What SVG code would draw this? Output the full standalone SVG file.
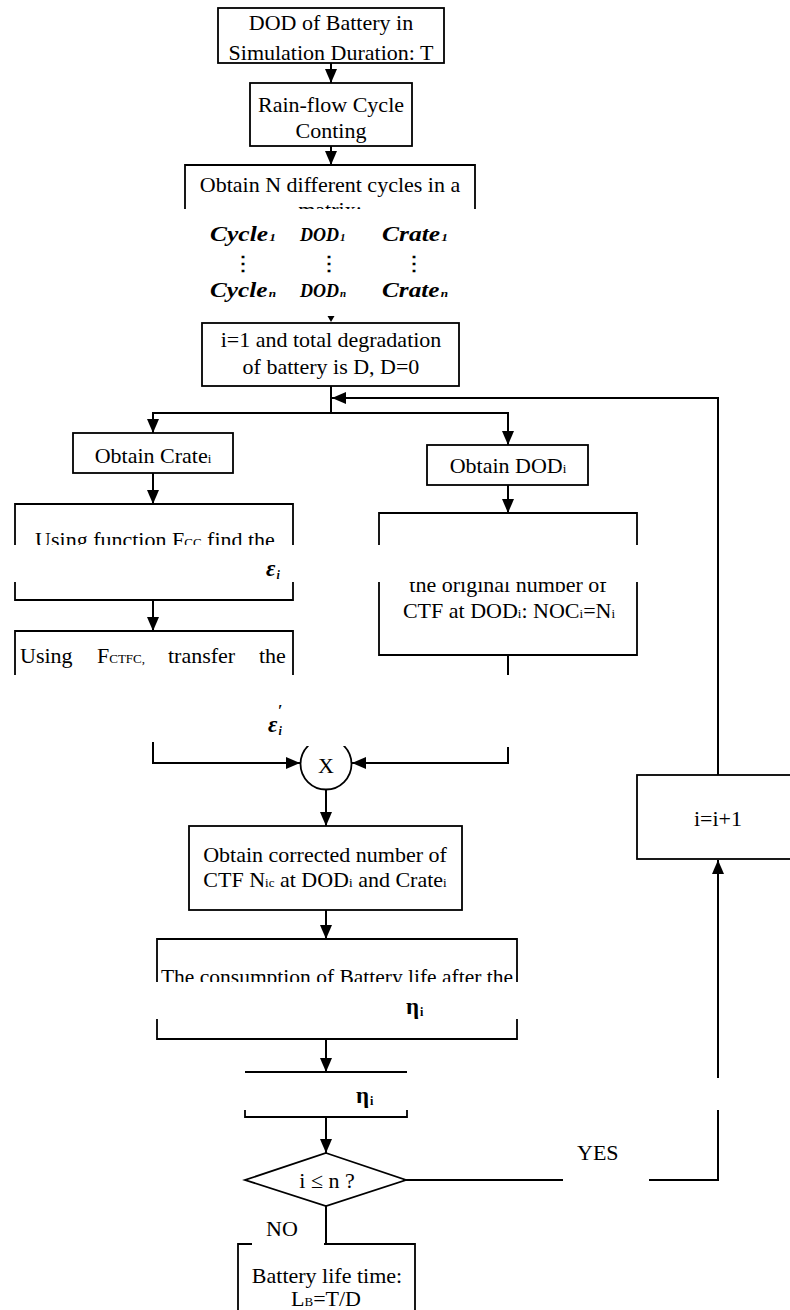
<svg xmlns="http://www.w3.org/2000/svg" width="790" height="1310" viewBox="0 0 790 1310">
<defs>
<style>
.t{font-family:"Liberation Serif","Times New Roman",serif;font-size:22px;fill:#000}
.c{text-anchor:middle}
.s{font-size:13px}
.m{font-family:"Liberation Serif","Times New Roman",serif;font-size:21px;font-weight:bold;font-style:italic;fill:#000}
.ms{font-size:11px}
.d{font-family:"Liberation Serif","Times New Roman",serif;font-size:20px;font-weight:bold;fill:#000;text-anchor:middle}
.g{font-family:"Liberation Serif","DejaVu Serif",serif;font-size:23px;font-weight:bold;font-style:italic;fill:#000}
.gs{font-family:"Liberation Serif","DejaVu Serif",serif;font-size:12px;font-weight:bold;fill:#000}
.b{fill:none;stroke:#000;stroke-width:1.8}
.w{fill:#fff;stroke:#000;stroke-width:1.8}
.k{fill:none;stroke:#000;stroke-width:2}
</style>
<marker id="ah" markerUnits="userSpaceOnUse" markerWidth="14" markerHeight="12" refX="14" refY="6" orient="auto">
<path d="M0,0 L14,6 L0,12 z" fill="#000"/>
</marker>
<clipPath id="clipMatrix"><rect x="0" y="0" width="790" height="209"/></clipPath>
<clipPath id="clipFcc"><rect x="0" y="0" width="790" height="545"/></clipPath>
<clipPath id="clipOrig"><rect x="0" y="582" width="790" height="200"/></clipPath>
<clipPath id="clipCtfc"><rect x="0" y="0" width="790" height="675"/></clipPath>
<clipPath id="clipCons"><rect x="0" y="0" width="790" height="982"/></clipPath>
<clipPath id="clipCirc"><rect x="0" y="746" width="790" height="100"/></clipPath>
</defs>
<rect x="0" y="0" width="790" height="1310" fill="#fff"/>

<g id="connectors">
<path class="k" d="M331,63 V83" marker-end="url(#ah)"/>
<path class="k" d="M331,146 V165" marker-end="url(#ah)"/>
<polygon points="327.5,316 334.5,316 331,322" fill="#000"/>
<path class="k" d="M331,386 V413"/>
<path class="k" d="M331,413 H153 V433" marker-end="url(#ah)"/>
<path class="k" d="M331,413 H508 V445" marker-end="url(#ah)"/>
<path class="k" d="M718,775 V398 H332" marker-end="url(#ah)"/>
<path class="k" d="M153,473 V504" marker-end="url(#ah)"/>
<path class="k" d="M508,485 V513" marker-end="url(#ah)"/>
<path class="k" d="M153,600 V631" marker-end="url(#ah)"/>
<path class="k" d="M508,655 V675"/>
<path class="k" d="M153,742 V763 H300" marker-end="url(#ah)"/>
<path class="k" d="M508,747 V763 H352" marker-end="url(#ah)"/>
<path class="k" d="M326,790 V826" marker-end="url(#ah)"/>
<path class="k" d="M326,910 V939" marker-end="url(#ah)"/>
<path class="k" d="M326,1039 V1072" marker-end="url(#ah)"/>
<path class="k" d="M326,1117 V1153" marker-end="url(#ah)"/>
<path class="k" d="M326,1206 V1244"/>
<path class="k" d="M406,1180 H563"/>
<path class="k" d="M649,1180 H718 V1110"/>
<path class="k" d="M718,1078 V860" marker-end="url(#ah)"/>
<text class="t" x="577" y="1160">YES</text>
<text class="t" x="266" y="1236">NO</text>
</g>

<g id="n1">
<rect class="b" x="218" y="8" width="226" height="55"/>
<text class="t c" x="331" y="30">DOD of Battery in</text>
<text class="t c" x="331" y="60">Simulation Duration: T</text>
</g>

<g id="n2">
<rect class="b" x="250" y="83" width="162" height="63"/>
<text class="t c" x="331" y="112">Rain-flow Cycle</text>
<text class="t c" x="331" y="138">Conting</text>
</g>

<g id="n3">
<path class="b" d="M185,209 V165 H475 V209"/>
<text class="t c" x="330" y="192">Obtain N different cycles in a</text>
<text class="t c" x="330" y="217" clip-path="url(#clipMatrix)">matrix:</text>
</g>

<g id="matrix">
<text class="m" x="210" y="241" textLength="66" lengthAdjust="spacingAndGlyphs">Cycle<tspan class="ms" dx="1">1</tspan></text>
<text class="m" x="300" y="241" style="font-size:18px">DOD<tspan class="ms" dx="1">1</tspan></text>
<text class="m" x="382" y="241" textLength="66" lengthAdjust="spacingAndGlyphs">Crate<tspan class="ms" dx="1">1</tspan></text>
<text class="d" x="243" y="270">⋮</text>
<text class="d" x="329" y="270">⋮</text>
<text class="d" x="414" y="270">⋮</text>
<text class="m" x="210" y="297" textLength="66" lengthAdjust="spacingAndGlyphs">Cycle<tspan class="ms" dx="1">n</tspan></text>
<text class="m" x="300" y="297" style="font-size:18px">DOD<tspan class="ms" dx="1">n</tspan></text>
<text class="m" x="382" y="297" textLength="66" lengthAdjust="spacingAndGlyphs">Crate<tspan class="ms" dx="1">n</tspan></text>
</g>

<g id="n4">
<rect class="b" x="202" y="323" width="257" height="63"/>
<text class="t c" x="331" y="347">i=1 and total degradation</text>
<text class="t c" x="331" y="374">of battery is D, D=0</text>
</g>

<g id="n5">
<rect class="b" x="73" y="433" width="160" height="40"/>
<text class="t c" x="153" y="463">Obtain Crate<tspan class="s">i</tspan></text>
</g>

<g id="n6">
<rect class="b" x="427" y="445" width="161" height="40"/>
<text class="t c" x="508" y="473">Obtain DOD<tspan class="s">i</tspan></text>
</g>

<g id="n7">
<path class="b" d="M15,545 V504 H293 V545 M15,582 V600 H293 V582"/>
<text class="t c" x="155" y="547" clip-path="url(#clipFcc)">Using function F<tspan class="s">CC</tspan> find the</text>
<text class="g" x="266" y="576">ε<tspan class="gs" dx="1" dy="3">i</tspan></text>
</g>

<g id="n8">
<path class="b" d="M379,545 V513 H637 V545 M379,582 V655 H637 V582"/>
<text class="t c" x="508" y="592" clip-path="url(#clipOrig)">the original number of</text>
<text class="t c" x="509" y="618">CTF at DOD<tspan class="s">i</tspan>: NOC<tspan class="s">i</tspan>=N<tspan class="s">i</tspan></text>
</g>

<g id="n9">
<path class="b" d="M15,675 V631 H293 V675"/>
<g clip-path="url(#clipCtfc)">
<text class="t" x="20" y="663">Using</text>
<text class="t" x="97" y="663">F<tspan class="s">CTFC,</tspan></text>
<text class="t" x="168" y="663">transfer</text>
<text class="t" x="259" y="663">the</text>
</g>
<text class="g" x="268" y="732">ε<tspan class="gs" dx="1" dy="3">i</tspan><tspan class="gs" style="font-size:16px" dx="-4" dy="-19">′</tspan></text>
</g>

<g id="n10">
<circle class="b" cx="326" cy="764" r="25.5" clip-path="url(#clipCirc)"/>
<text class="t c" x="326" y="773">X</text>
</g>

<g id="n11">
<rect class="b" x="637" y="775" width="160" height="84"/>
<text class="t c" x="718" y="826">i=i+1</text>
</g>

<g id="n12">
<rect class="b" x="189" y="826" width="273" height="84"/>
<text class="t c" x="325" y="862">Obtain corrected number of</text>
<text class="t c" x="325" y="887">CTF N<tspan class="s">ic</tspan> at DOD<tspan class="s">i</tspan> and Crate<tspan class="s">i</tspan></text>
</g>

<g id="n13">
<path class="b" d="M157,982 V939 H517 V982 M157,1019 V1039 H517 V1019"/>
<text class="t" x="161" y="984" textLength="352" lengthAdjust="spacingAndGlyphs" clip-path="url(#clipCons)">The consumption of Battery life after the</text>
<text class="g" x="406" y="1014" style="font-style:normal">η<tspan class="gs" dx="1" dy="2">i</tspan></text>
</g>

<g id="n14">
<path class="b" d="M245,1072 H407 M245,1110 V1117 H407 V1110"/>
<text class="g" x="356" y="1103" style="font-style:normal">η<tspan class="gs" dx="1" dy="2">i</tspan></text>
</g>

<g id="n15">
<polygon class="w" points="326,1153 406,1180 326,1206 245,1180"/>
<text class="t c" x="327" y="1188">i ≤ n ?</text>
</g>

<g id="n16">
<path class="b" d="M238,1312 V1244 H252 M324,1244 H415 V1312"/>
<text class="t c" x="327" y="1283">Battery life time:</text>
<text class="t c" x="326" y="1306">L<tspan class="s">B</tspan>=T/D</text>
</g>
</svg>
